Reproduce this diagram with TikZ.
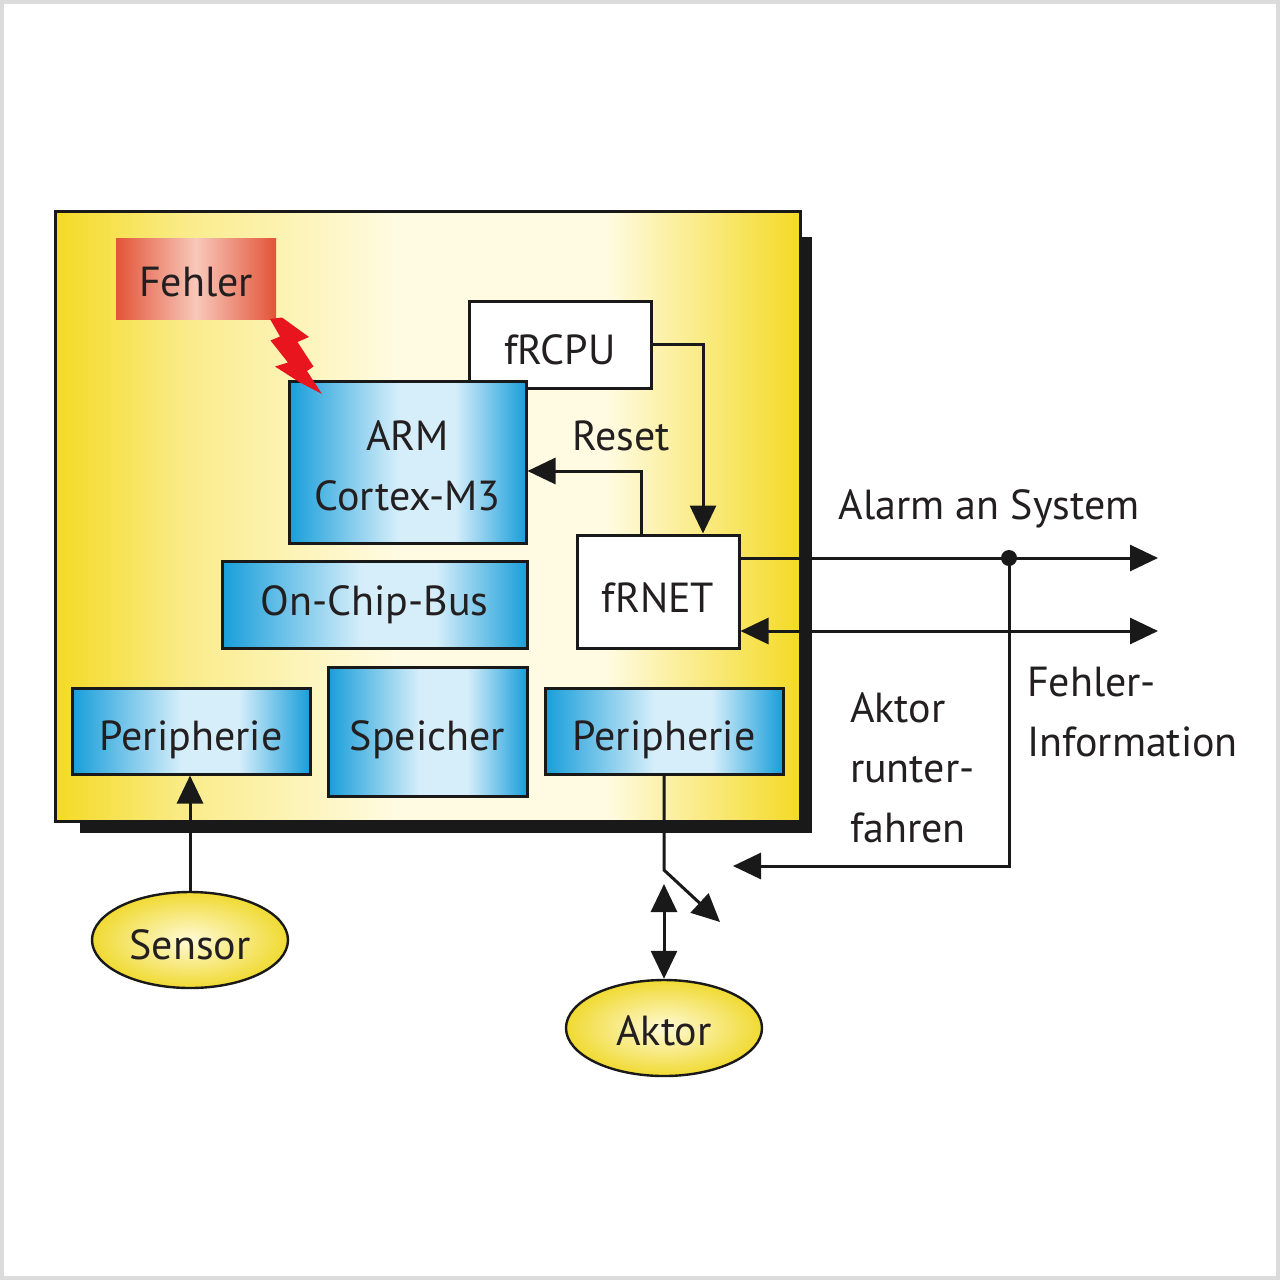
\documentclass[tikz,border=0pt]{standalone}
\usepackage{fontspec}
\setmainfont{PT Sans}
\usetikzlibrary{arrows.meta,shapes.geometric}
\definecolor{chipY}{RGB}{244,218,36}
\definecolor{chipM}{RGB}{250,236,140}
\definecolor{chipP}{RGB}{255,251,226}
\definecolor{bD}{RGB}{24,158,218}
\definecolor{bL}{RGB}{214,238,250}
\definecolor{rD}{RGB}{226,84,56}
\definecolor{rL}{RGB}{248,200,186}
\definecolor{elY}{RGB}{240,218,50}
\definecolor{elP}{RGB}{255,250,215}
\definecolor{txt}{RGB}{35,31,32}
\definecolor{frame}{RGB}{220,220,220}
\definecolor{bolt}{RGB}{232,20,30}
\pgfdeclarehorizontalshading{yelsh}{100bp}{color(0bp)=(chipY); color(25bp)=(chipY); color(34bp)=(chipM); color(48bp)=(chipP); color(62bp)=(chipP); color(75bp)=(chipY); color(100bp)=(chipY)}
\pgfdeclarehorizontalshading{bluesh}{100bp}{color(0bp)=(bD); color(25bp)=(bD); color(48bp)=(bL); color(60bp)=(bL); color(75bp)=(bD); color(100bp)=(bD)}
\pgfdeclarehorizontalshading{redsh}{100bp}{color(0bp)=(rD); color(25bp)=(rD); color(50bp)=(rL); color(75bp)=(rD); color(100bp)=(rD)}
\newsavebox\lowbox
\begin{document}
\begin{tikzpicture}[x=0.5pt,y=-0.5pt,
  every node/.style={font=\fontsize{21}{30}\selectfont, text=txt},
  lowtext/.style={execute at begin node={\setbox\lowbox\hbox\bgroup},
    execute at end node={\egroup\raisebox{-#1}[\ht\lowbox][\dp\lowbox]{\usebox\lowbox}}},
  box/.style={draw=black!90, line width=1.5pt, rectangle, inner sep=0pt},
  bluebox/.style={box, shading=bluesh},
  whitebox/.style={box, fill=white},
  oval/.style={ellipse, draw=black!90, line width=1.2pt, inner sep=0pt, inner color=elP, outer color=elY, minimum width=98pt, minimum height=48pt},
  conn/.style={draw=black!90, line width=1.5pt},
  >={Triangle[length=14pt,width=13pt]}]
\useasboundingbox (0,0) rectangle (1280,1280);
\fill[white] (0,0) rectangle (1280,1280);
\draw[frame, line width=2pt] (2,2) rectangle (1278,1278);
% chip with shadow
\fill[black!90] (80,237) rectangle (812,833);
\node[box, shading=yelsh, minimum width=372.5pt, minimum height=305pt] (chip) at (427.5,516) {};
% Fehler
\node[rectangle, inner sep=0pt, shading=redsh, minimum width=80pt, minimum height=40.5pt, lowtext=1.7pt] (fehler) at (196,278.5) {Fehler};
% boxes
\node[whitebox, minimum width=91pt, minimum height=43.5pt, lowtext=2.7pt] (frcpu) at (560,344.5) {fRCPU};
\node[bluebox, minimum width=118.5pt, minimum height=81pt, lowtext=3.35pt] (arm) at (407.5,462) {\begin{tabular}{@{}c@{}}ARM\\Cortex-M3\end{tabular}};
\node[bluebox, minimum width=152.5pt, minimum height=43.5pt, lowtext=0.3pt] (bus) at (374.5,604.5) {On-Chip-Bus};
\node[whitebox, minimum width=81pt, minimum height=56.5pt, lowtext=3.3pt] (frnet) at (658,591.5) {fRNET};
\node[bluebox, minimum width=119pt, minimum height=43pt, lowtext=4.6pt] (perl) at (191,731) {Peripherie};
\node[bluebox, minimum width=99.5pt, minimum height=64.5pt, lowtext=4.35pt] (speicher) at (427.5,731.5) {Speicher};
\node[bluebox, minimum width=119pt, minimum height=43pt, lowtext=4.6pt] (perr) at (664,731) {Peripherie};
% bolt (over the ARM box corner)
\fill[bolt] (270,319) -- (282,317.5) -- (309,337) -- (297.5,342) -- (313.5,366.5) -- (307,371) -- (322,394)
  -- (300,382.5) -- (275,366.5) -- (288,362.5) -- (270.5,340.5) -- (280,336.5) -- cycle;
% ovals
\node[oval, lowtext=2.15pt] (sensor) at (190,940) {Sensor};
\node[oval, lowtext=1.5pt] (aktor) at (664,1028) {Aktor};
% labels
\node (reset) at (621,436) {Reset};
\node (alarm) at (989,509) {Alarm an System};
\node[anchor=west, align=left] (finfo) at (1020,712) {Fehler-\\Information};
\node[anchor=west, align=left] (akt) at (843,768) {Aktor\\runter-\\fahren};
% coordinates
\coordinate (alarmend) at (1158,558);
\coordinate (infoend) at (1158,631);
\coordinate (junc) at (1009,558);
\coordinate (aktcorner) at (1009,866);
\coordinate (aktend) at (733,866);
\coordinate (sw1) at (664,870);
\coordinate (sw2) at (720,922);
\coordinate (aktup) at (664,884);
% connectors
\draw[conn,->] (frcpu.east) -| ([xshift=22.5pt]frnet.north);
\draw[conn,->] ([xshift=-8.5pt]frnet.north) |- ([yshift=-4.5pt]arm.east);
\draw[conn,->] ([yshift=16.75pt]frnet.east) -- (alarmend);
\draw[conn,<->] ([yshift=-19.75pt]frnet.east) -- (infoend);
\fill[black!90] (junc) circle (4pt);
\draw[conn,->] (junc) -- (aktcorner) -- (aktend);
\draw[conn,->] (sensor.north) -- (sensor.north |- perl.south);
\draw[conn,->] (perr.south) -- (sw1) -- (sw2);
\draw[conn,<->] (aktup) -- (aktor.north);
\end{tikzpicture}
\end{document}
